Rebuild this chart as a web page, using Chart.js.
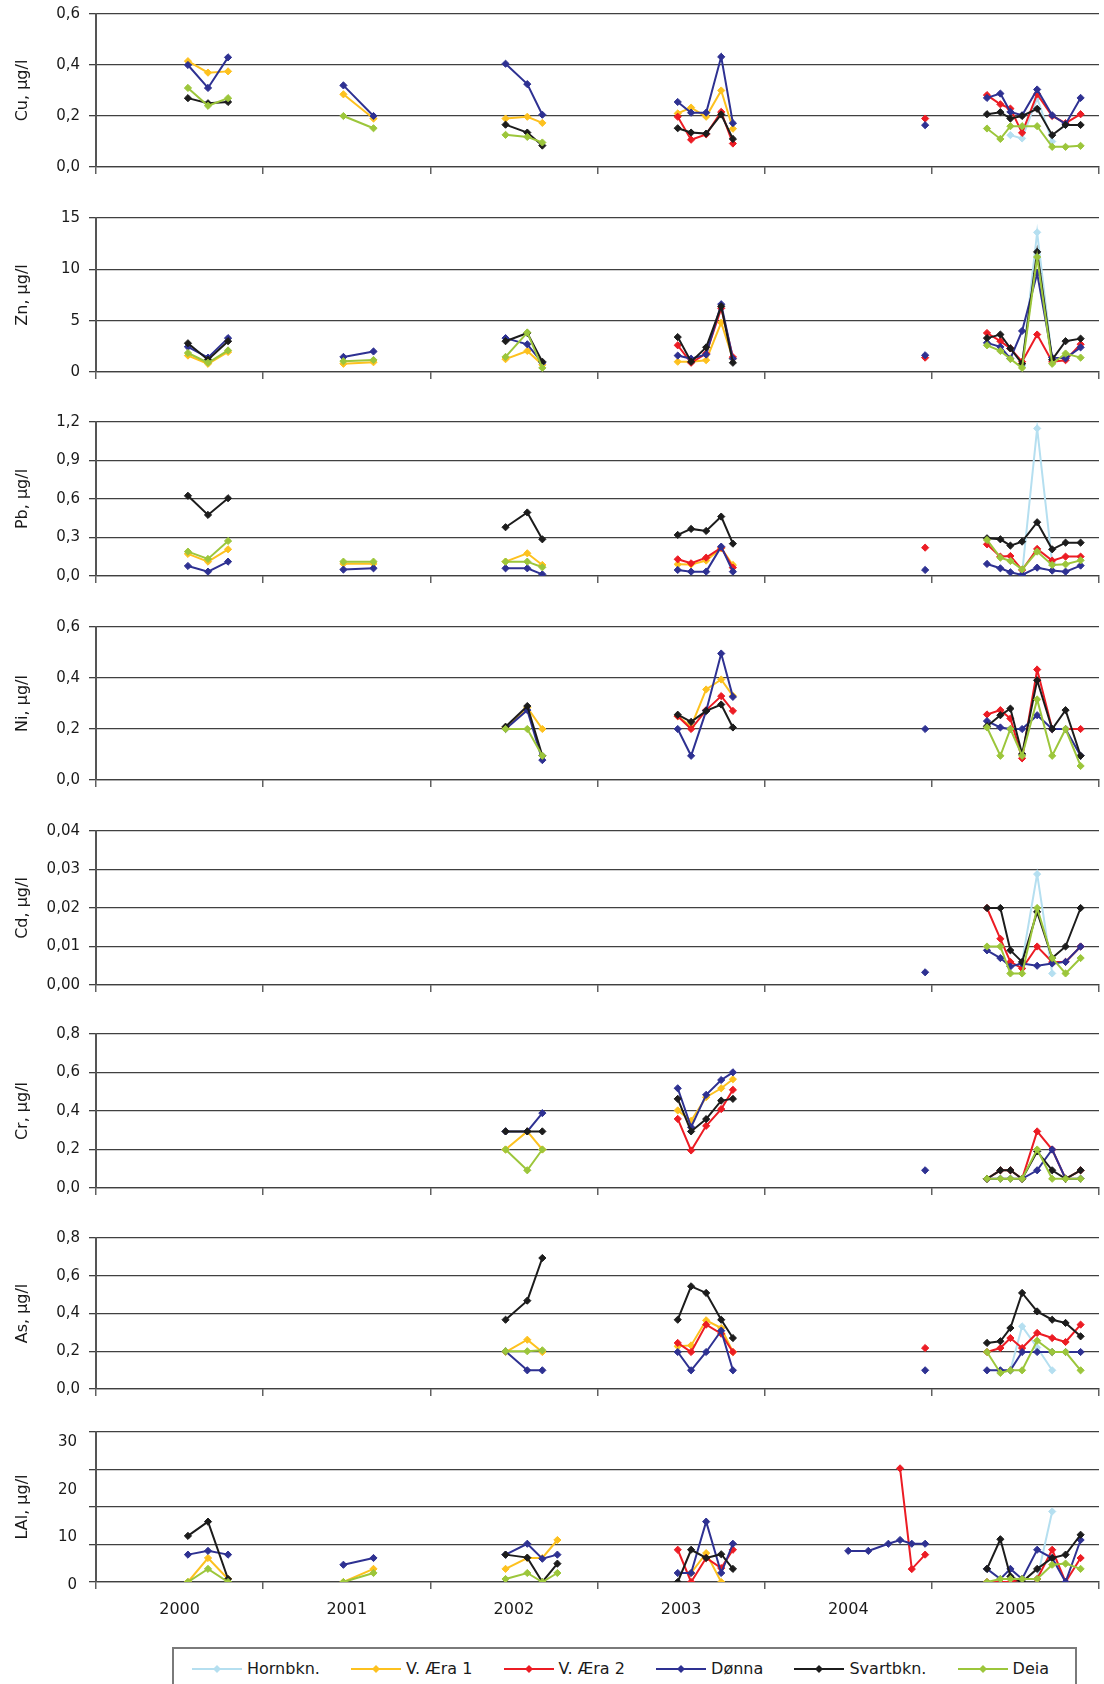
<!DOCTYPE html>
<html>
<head>
<meta charset="utf-8">
<script src="https://cdn.jsdelivr.net/npm/chart.js@4.4.1/dist/chart.umd.min.js"></script>
<style>
  body { margin: 0; background: #fff; }
  #page { position: relative; width: 1104px; height: 1684px; overflow: hidden; }
  .panel { position: absolute; left: 0; }
  #legend {
    position: absolute; left: 172px; top: 1647px; width: 905px; height: 60px;
    box-sizing: border-box; border: 2px solid #7a7a7a;
    display: flex; justify-content: space-between; align-items: flex-start;
    padding: 10px 26px 0 18px;
    font: 16px 'DejaVu Sans', sans-serif; color: #1a1a1a;
  }
  .item { display: flex; align-items: center; white-space: nowrap; }
  .item svg { margin-right: 5px; }
</style>
</head>
<body>
<div id="page">
  <div id="legend"></div>
</div>
<script>
// stasjoner (legend order)
const STATIONS = ['Hornbkn.', 'V. Æra 1', 'V. Æra 2', 'Dønna', 'Svartbkn.', 'Deia'];
const COLORS = ['#b5dff0', '#fdc11f', '#ec1c24', '#2e3192', '#1c1c1c', '#9cc63b'];

// sampling dates as fractional years: 2000 | 2001 | 2002 | 2003 | 2004 | 2005
const DATES = [
  2000.55, 2000.67, 2000.79,
  2001.48, 2001.66,
  2002.45, 2002.58, 2002.67, 2002.76,
  2003.48, 2003.56, 2003.65, 2003.74, 2003.81,
  2004.50, 2004.62, 2004.74, 2004.81, 2004.88, 2004.96,
  2005.33, 2005.41, 2005.47, 2005.54, 2005.63, 2005.72, 2005.80, 2005.89
];
const n = null;

// one row per station, same order as STATIONS, aligned with DATES
const CU = [
  [n,n,n, n,n, n,n,n,n, n,n,n,n,n, n,n,n,n,n,n, n,n,0.125,0.112,0.27,0.10,n,n],
  [0.415,0.37,0.375, 0.285,0.19, 0.19,0.197,0.173,n, 0.21,0.233,0.197,0.30,0.15, n,n,n,n,n,n, n,n,n,n,n,n,n,n],
  [n,n,n, n,n, n,n,n,n, 0.197,0.107,0.128,0.216,0.092, n,n,n,n,n,0.19, 0.282,0.246,0.229,0.134,0.286,0.20,0.172,0.207],
  [0.40,0.31,0.43, 0.32,0.20, 0.405,0.325,0.205,n, 0.255,0.213,0.213,0.432,0.172, n,n,n,n,n,0.164, 0.271,0.288,0.216,0.203,0.304,0.203,0.168,0.271],
  [0.27,0.25,0.255, n,n, 0.166,0.135,0.084,n, 0.152,0.135,0.131,0.206,0.11, n,n,n,n,n,n, 0.207,0.215,0.19,0.20,0.228,0.125,0.165,0.165],
  [0.31,0.24,0.27, 0.20,0.152, 0.126,0.118,0.096,n, n,n,n,n,n, n,n,n,n,n,n, 0.151,0.11,0.16,0.16,0.16,0.079,0.079,0.083]
];
const ZN = [
  [n,n,n, n,n, n,n,n,n, n,n,n,n,n, n,n,n,n,n,n, n,n,n,0.6,13.6,1.2,n,n],
  [1.6,0.8,1.95, 0.8,0.95, 1.25,2.05,0.7,n, 1.0,1.0,1.15,4.8,1.3, n,n,n,n,n,n, n,n,n,n,n,n,n,n],
  [n,n,n, n,n, n,n,n,n, 2.6,0.9,1.8,6.2,1.45, n,n,n,n,n,1.4, 3.8,3.0,2.3,1.0,3.65,1.0,1.15,2.7],
  [2.45,1.4,3.3, 1.47,2.0, 3.3,2.7,0.9,n, 1.6,1.3,1.7,6.6,1.3, n,n,n,n,n,1.63, 2.84,2.45,1.3,4.0,9.6,1.4,1.33,2.4],
  [2.8,1.2,3.0, n,n, 3.0,3.8,1.0,n, 3.4,1.0,2.4,6.4,0.9, n,n,n,n,n,n, 3.3,3.65,2.3,0.8,11.7,1.2,3.0,3.25],
  [1.85,0.9,2.1, 1.05,1.17, 1.47,3.85,0.4,n, n,n,n,n,n, n,n,n,n,n,n, 2.6,2.05,1.27,0.4,11.2,0.8,1.8,1.4]
];
const PB = [
  [n,n,n, n,n, n,n,n,n, n,n,n,n,n, n,n,n,n,n,n, n,n,n,0.02,1.15,0.10,n,n],
  [0.172,0.112,0.208, 0.096,0.096, 0.112,0.177,0.086,n, 0.091,0.09,0.12,0.216,0.086, n,n,n,n,n,n, n,n,n,n,n,n,n,n],
  [n,n,n, n,n, n,n,n,n, 0.13,0.099,0.143,0.221,0.065, n,n,n,n,n,0.221, 0.247,0.151,0.156,0.047,0.211,0.12,0.151,0.151],
  [0.078,0.034,0.112, 0.05,0.06, 0.06,0.06,0.013,n, 0.047,0.034,0.034,0.229,0.034, n,n,n,n,n,0.047, 0.094,0.06,0.029,0.008,0.065,0.042,0.034,0.081],
  [0.625,0.476,0.606, n,n, 0.38,0.495,0.286,n, 0.32,0.367,0.351,0.463,0.252, n,n,n,n,n,n, 0.294,0.286,0.237,0.268,0.419,0.208,0.26,0.26],
  [0.19,0.133,0.273, 0.112,0.112, 0.112,0.112,0.068,n, n,n,n,n,n, n,n,n,n,n,n, 0.281,0.143,0.117,0.052,0.19,0.086,0.091,0.122]
];
const NI = [
  [n,n,n, n,n, n,n,n,n, n,n,n,n,n, n,n,n,n,n,n, n,n,n,n,n,n,n,n],
  [n,n,n, n,n, 0.206,0.284,0.2,n, 0.25,0.21,0.355,0.394,0.33, n,n,n,n,n,n, n,n,n,n,n,n,n,n],
  [n,n,n, n,n, n,n,n,n, 0.25,0.2,0.274,0.329,0.271, n,n,n,n,n,n, 0.257,0.274,0.241,0.085,0.433,0.2,0.2,0.2],
  [n,n,n, n,n, 0.2,0.274,0.078,n, 0.2,0.095,0.271,0.496,0.326, n,n,n,n,n,0.2, 0.231,0.206,0.2,0.2,0.254,0.2,0.2,0.095],
  [n,n,n, n,n, 0.209,0.29,0.095,n, 0.256,0.228,0.271,0.296,0.206, n,n,n,n,n,n, 0.211,0.254,0.28,0.102,0.391,0.2,0.274,0.095],
  [n,n,n, n,n, 0.2,0.2,0.095,n, n,n,n,n,n, n,n,n,n,n,n, 0.206,0.095,0.2,0.095,0.316,0.095,0.2,0.055]
];
const CD = [
  [n,n,n, n,n, n,n,n,n, n,n,n,n,n, n,n,n,n,n,n, n,n,n,0.006,0.0288,0.003,n,n],
  [n,n,n, n,n, n,n,n,n, n,n,n,n,n, n,n,n,n,n,n, n,n,n,n,n,n,n,n],
  [n,n,n, n,n, n,n,n,n, n,n,n,n,n, n,n,n,n,n,n, 0.02,0.012,0.006,0.0043,0.01,0.006,0.006,0.01],
  [n,n,n, n,n, n,n,n,n, n,n,n,n,n, n,n,n,n,n,0.0033, 0.009,0.007,0.0048,0.0056,0.005,0.0056,0.006,0.01],
  [n,n,n, n,n, n,n,n,n, n,n,n,n,n, n,n,n,n,n,n, 0.02,0.02,0.009,0.006,0.019,0.007,0.01,0.02],
  [n,n,n, n,n, n,n,n,n, n,n,n,n,n, n,n,n,n,n,n, 0.01,0.01,0.003,0.003,0.02,0.007,0.003,0.007]
];
const CR = [
  [n,n,n, n,n, n,n,n,n, n,n,n,n,n, n,n,n,n,n,n, n,n,n,n,n,n,n,n],
  [n,n,n, n,n, 0.2,0.294,0.2,n, 0.403,0.349,0.472,0.518,0.565, n,n,n,n,n,n, n,n,n,n,n,n,n,n],
  [n,n,n, n,n, n,n,n,n, 0.359,0.195,0.323,0.41,0.51, n,n,n,n,n,n, 0.048,0.092,0.092,0.048,0.294,0.2,0.048,0.092],
  [n,n,n, n,n, 0.294,0.294,0.389,n, 0.518,0.316,0.484,0.561,0.601, n,n,n,n,n,0.092, 0.048,0.048,0.048,0.048,0.092,0.2,0.048,0.048],
  [n,n,n, n,n, 0.294,0.294,0.294,n, 0.463,0.294,0.358,0.454,0.463, n,n,n,n,n,n, 0.048,0.092,0.092,0.048,0.19,0.092,0.048,0.092],
  [n,n,n, n,n, 0.2,0.092,0.2,n, n,n,n,n,n, n,n,n,n,n,n, 0.048,0.048,0.048,0.048,0.2,0.048,0.048,0.048]
];
const AS = [
  [n,n,n, n,n, n,n,n,n, n,n,n,n,n, n,n,n,n,n,n, n,n,0.099,0.332,0.22,0.099,n,n],
  [n,n,n, n,n, 0.196,0.261,0.196,n, 0.226,0.231,0.364,0.323,0.196, n,n,n,n,n,n, n,n,n,n,n,n,n,n],
  [n,n,n, n,n, n,n,n,n, 0.244,0.196,0.341,0.293,0.196, n,n,n,n,n,0.217, 0.196,0.217,0.27,0.217,0.297,0.27,0.249,0.341],
  [n,n,n, n,n, 0.2,0.099,0.099,n, 0.196,0.099,0.196,0.309,0.099, n,n,n,n,n,0.099, 0.099,0.099,0.099,0.196,0.196,0.196,0.196,0.196],
  [n,n,n, n,n, 0.367,0.468,0.694,n, 0.367,0.544,0.509,0.367,0.27, n,n,n,n,n,n, 0.244,0.253,0.323,0.509,0.411,0.367,0.35,0.279],
  [n,n,n, n,n, 0.2,0.2,0.205,n, n,n,n,n,n, n,n,n,n,n,n, 0.196,0.085,0.099,0.099,0.256,0.196,0.196,0.099]
];
const LAL = [
  [n,n,n, n,n, n,n,n,n, n,n,n,n,n, n,n,n,n,n,n, n,n,n,n,0.8,18.8,n,n],
  [0,6.4,0.8, 0,3.5, 3.5,6.4,6.4,11.2, n,2.4,7.7,0,n, n,n,n,n,n,n, n,n,n,n,n,n,n,n],
  [n,n,n, n,n, n,n,n,n, 8.6,0,6.4,3.7,8.6, n,n,n,30.3,3.45,7.3, 0,0,0,0.8,0.8,8.6,0,6.4],
  [7.3,8.3,7.3, 4.6,6.4, 7.3,10.2,6.2,7.3, 2.4,2.4,16.1,2.4,10.2, 8.3,8.3,10.2,11.2,10.2,10.2, 3.5,0.8,3.5,0.8,8.6,6.4,0,11.2],
  [12.3,16.1,0.8, n,n, 7.3,6.5,0,4.9, 0,8.6,6.4,7.4,3.5, n,n,n,n,n,n, 3.5,11.4,1.5,0,3.5,6.4,7.3,12.6],
  [0,3.5,0, 0,2.4, 0.8,2.4,0,2.4, n,n,n,n,n, n,n,n,n,n,n, 0,0.8,0.8,0.8,0.8,4.6,4.9,3.5]
];

// x ticks every half year: whole years get a tick mark, half years carry the label
const XTICKS = [2000, 2000.5, 2001, 2001.5, 2002, 2002.5, 2003, 2003.5, 2004, 2004.5, 2005, 2005.5, 2006];
// LAI: the printed labels do not sit on the grid lines
const LAL_LABELS = [0, 10, 20, 30];

const PANELS = [
  { title: 'Cu, µg/l', rows: CU, max: 0.6, ticks: [0, 0.2, 0.4, 0.6], dec: 1, top: 14, bottom: 167 },
  { title: 'Zn, µg/l', rows: ZN, max: 15, ticks: [0, 5, 10, 15], dec: 0, top: 218, bottom: 372 },
  { title: 'Pb, µg/l', rows: PB, max: 1.2, ticks: [0, 0.3, 0.6, 0.9, 1.2], dec: 1, top: 422, bottom: 576 },
  { title: 'Ni, µg/l', rows: NI, max: 0.6, ticks: [0, 0.2, 0.4, 0.6], dec: 1, top: 627, bottom: 780 },
  { title: 'Cd, µg/l', rows: CD, max: 0.04, ticks: [0, 0.01, 0.02, 0.03, 0.04], dec: 2, top: 831, bottom: 985 },
  { title: 'Cr, µg/l', rows: CR, max: 0.8, ticks: [0, 0.2, 0.4, 0.6, 0.8], dec: 1, top: 1034, bottom: 1188 },
  { title: 'As, µg/l', rows: AS, max: 0.8, ticks: [0, 0.2, 0.4, 0.6, 0.8], dec: 1, top: 1238, bottom: 1389 },
  { title: 'LAl, µg/l', rows: LAL, max: 40, ticks: [0, 10, 20, 30, 40], dec: 0, top: 1432, bottom: 1582, odd: true }
];

Chart.defaults.font.family = "'DejaVu Sans', sans-serif";
Chart.defaults.color = '#1a1a1a';

const page = document.getElementById('page');
const GRID = '#404040';
const PAD_TOP = 12;
const AXIS_W = 96;

function fmt(v, dec) {
  return v.toFixed(dec).replace('.', ',');
}

// keep the plot area exactly where the layout says: no extra label padding
function noPad(s) {
  s.paddingTop = 0;
  s.paddingBottom = 0;
  s.paddingLeft = 0;
  s.paddingRight = 0;
}

function makePanel(p, last) {
  const xh = last ? 40 : 10;
  const h = p.bottom - p.top + PAD_TOP + xh;

  const div = document.createElement('div');
  div.className = 'panel';
  div.style.top = (p.top - PAD_TOP) + 'px';
  const cv = document.createElement('canvas');
  cv.width = 1104;
  cv.height = h;
  div.appendChild(cv);
  page.appendChild(div);

  const datasets = STATIONS.map((name, s) => ({
    label: name,
    data: DATES.map((d, k) => ({ x: d, y: p.rows[s][k] })).filter(pt => pt.y !== null),
    borderColor: COLORS[s],
    backgroundColor: COLORS[s],
    borderWidth: 2,
    pointStyle: 'rectRot',
    pointRadius: 3.6,
    pointBorderWidth: 1,
    spanGaps: 0.3,
    order: STATIONS.length - s
  }));

  const title = {
    display: true, text: p.title,
    font: { size: 16 }, color: '#1a1a1a',
    padding: { top: 13, bottom: 0 }
  };

  const scales = {
    x: {
      type: 'linear', min: 2000, max: 2006,
      afterBuildTicks: s => { s.ticks = XTICKS.map(v => ({ value: v })); },
      afterFit: s => { s.height = xh; noPad(s); },
      grid: {
        drawOnChartArea: false, drawTicks: true, tickLength: 7, lineWidth: 1.5,
        color: c => (c.tick && Number.isInteger(c.tick.value)) ? '#606060' : 'rgba(0,0,0,0)'
      },
      border: { display: true, color: GRID, width: 1.3 },
      ticks: {
        display: last, autoSkip: false, maxRotation: 0, padding: 11,
        font: { size: 16 }, color: '#1a1a1a',
        callback: v => (v % 1) ? String(Math.floor(v)) : ''
      }
    },
    y: {
      min: 0, max: p.max,
      afterBuildTicks: s => { s.ticks = p.ticks.map(v => ({ value: v })); },
      afterFit: s => { s.width = p.odd ? 8 : AXIS_W; noPad(s); },
      grid: { color: GRID, lineWidth: 1.3, tickLength: 7 },
      border: { color: '#555', width: 2 },
      ticks: {
        display: !p.odd, autoSkip: false, padding: 9,
        font: { size: 15 }, color: '#1a1a1a',
        callback: v => fmt(v, p.dec)
      },
      title: p.odd ? { display: false } : title
    }
  };

  if (p.odd) {
    scales.yl = {
      type: 'linear', position: 'left', weight: 1,
      min: 0.7, max: 32.1,
      afterBuildTicks: s => { s.ticks = LAL_LABELS.map(v => ({ value: v })); },
      afterFit: s => { s.width = AXIS_W - 8; noPad(s); },
      grid: { display: false, drawTicks: false },
      border: { display: false },
      ticks: {
        autoSkip: false, padding: 11,
        font: { size: 15 }, color: '#1a1a1a',
        callback: v => String(v)
      },
      title: title
    };
  }

  return new Chart(cv, {
    type: 'line',
    data: { datasets: datasets },
    options: {
      responsive: false,
      animation: false,
      events: [],
      layout: { padding: { top: PAD_TOP, left: 0, right: 0, bottom: 0 } },
      plugins: { legend: { display: false }, tooltip: { enabled: false } },
      scales: scales
    }
  });
}

PANELS.forEach((p, i) => makePanel(p, i === PANELS.length - 1));

// legend
const legend = document.getElementById('legend');
STATIONS.forEach((name, s) => {
  const item = document.createElement('div');
  item.className = 'item';
  item.innerHTML =
    '<svg width="50" height="12" viewBox="0 0 50 12">' +
    '<line x1="0" y1="6" x2="50" y2="6" stroke="' + COLORS[s] + '" stroke-width="2"/>' +
    '<polygon points="25,2 29,6 25,10 21,6" fill="' + COLORS[s] + '"/></svg>' +
    '<span>' + name + '</span>';
  legend.appendChild(item);
});
</script>
</body>
</html>
